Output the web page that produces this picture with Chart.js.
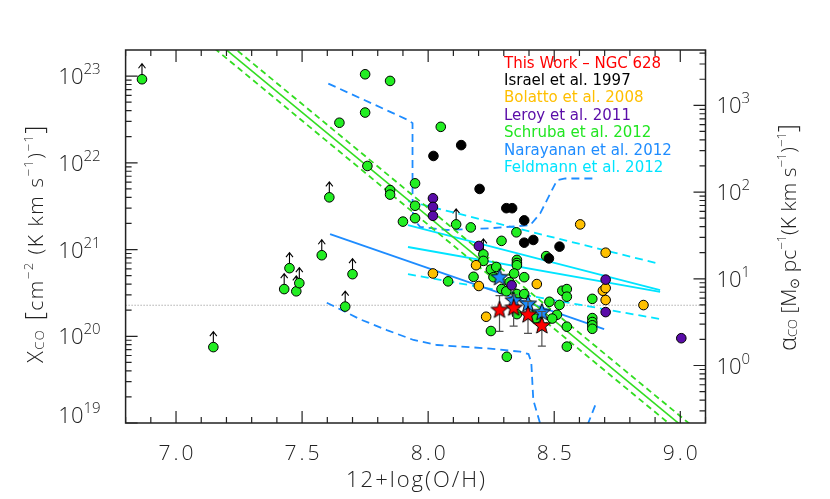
<!DOCTYPE html>
<html>
<head>
<meta charset="utf-8">
<script src="https://cdn.jsdelivr.net/npm/chart.js@4.4.0/dist/chart.umd.min.js"></script>
<style>
  html, body { margin: 0; padding: 0; background: #fff; }
  canvas { display: block; }
</style>
</head>
<body>
<canvas id="xcoChart" width="830" height="499"></canvas>
<script>
// ---- data: metallicity (12+log O/H) and X_CO [cm^-2 (K km/s)^-1] ----
const thisWorkX = [8.283, 8.339, 8.396, 8.451];
const thisWorkY = [2.04e20, 2.16e20, 1.80e20, 1.35e20];
const thisWorkErr = [0.9e20, 0.85e20, 0.72e20, 0.58e20];
const narayananStarY = [4.85e20, 2.62e20, 2.40e20, 1.92e20];

const israelX = [8.021, 8.131, 8.204, 8.310, 8.333, 8.381, 8.381, 8.417, 8.521, 8.479];
const israelY = [1.2e22, 1.6e22, 5.0e21, 3.0e21, 3.0e21, 2.17e21, 1.2e21, 1.29e21, 1.08e21, 7.9e20];

const bolattoX = [8.603, 8.704, 8.190, 8.019, 8.201, 8.431, 8.693, 8.704, 8.704, 8.854, 8.230];
const bolattoY = [1.95e21, 9.2e20, 6.6e20, 5.3e20, 3.8e20, 4.0e20, 3.35e20, 3.6e20, 2.62e20, 2.29e20, 1.68e20];

const leroyX = [8.019, 8.019, 8.019, 8.201, 8.331, 8.704, 8.704, 9.004];
const leroyY = [3.9e21, 3.1e21, 2.45e21, 1.1e21, 3.87e20, 4.5e20, 1.9e20, 9.5e19];

const schrubaX = [7.750, 7.849, 7.648, 7.750, 7.759, 7.849, 7.849, 7.900, 7.948, 7.948, 7.948,
  8.050, 8.169, 8.350, 8.291, 8.219, 8.468, 8.352, 8.352, 8.352, 8.079, 8.180, 8.249, 8.270,
  8.259, 8.341, 8.381, 8.323, 8.291, 8.310, 8.352, 8.381, 8.532, 8.550, 8.550, 8.481, 8.521,
  8.651, 8.651, 8.651, 8.651, 8.651, 8.511, 8.492, 8.426, 8.352, 8.249, 8.550, 8.550, 8.312];
const schrubaY = [1.05e23, 8.8e22, 2.9e22, 3.8e22, 9.2e21, 4.85e21, 4.3e21, 2.1e21, 5.8e21, 3.2e21, 2.3e21,
  2.6e22, 1.8e21, 1.58e21, 1.26e21, 7.4e20, 8.4e20, 7.6e20, 7.0e20, 6.6e20, 4.3e20, 4.85e20, 5.9e20, 6.3e20,
  4.8e20, 5.3e20, 4.8e20, 4.2e20, 3.5e20, 3.3e20, 3.07e20, 3.07e20, 3.35e20, 3.5e20, 2.86e20, 2.5e20, 2.3e20,
  2.7e20, 1.62e20, 1.46e20, 1.34e20, 1.22e20, 1.77e20, 1.6e20, 1.6e20, 1.8e20, 1.15e20, 1.29e20, 7.6e19, 5.8e19];
// lower limits (drawn with an up arrow)
const schrubaLimX = [6.865, 7.148, 7.429, 7.450, 7.477, 7.489, 7.578, 7.700, 7.671, 7.608, 8.111, 8.219];
const schrubaLimY = [9.2e22, 7.5e19, 3.5e20, 6.1e20, 3.3e20, 4.1e20, 8.6e20, 5.2e20, 2.2e20, 4.0e21, 1.95e21, 8.8e20];

// fits and model curves
const schrubaFitX = [7.0, 9.1];
const schrubaFitY = [6.05e23, 5.5e18];
const schrubaFitHiY = [7.55e23, 6.9e18];
const schrubaFitLoY = [4.85e23, 4.43e18];

const narayananFitX = [7.611, 8.698];
const narayananFitY = [1.51e21, 1.21e20];
const narayananUpX = [7.604, 7.922, 7.938, 7.938, 7.940, 7.968, 8.074, 8.246, 8.405, 8.444, 8.511, 8.544, 8.663];
const narayananUpY = [8.2e22, 3.1e22, 2.87e22, 4.06e21, 2.3e21, 1.83e21, 1.68e21, 1.76e21, 1.91e21, 2.6e21, 6.3e21, 6.6e21, 6.6e21];
const narayananLoX = [7.598, 7.730, 7.836, 7.942, 8.035, 8.233, 8.365, 8.398, 8.409, 8.417, 8.444];
const narayananLoY = [2.44e20, 1.57e20, 1.18e20, 9.06e19, 7.93e19, 7.26e19, 6.64e19, 6.24e19, 5.05e19, 1.84e19, 9.9e18];
const narayananLo2X = [8.632, 8.663];
const narayananLo2Y = [9.5e18, 1.61e19];

const feldmannX = [7.92, 8.92];
const feldmannY1 = [1.91e21, 3.41e20];
const feldmannY2 = [1.07e21, 3.26e20];
const feldmannHiY = [3.62e21, 6.8e20];
const feldmannLoY = [5.2e20, 1.58e20];

const milkyWayX = [6.8, 9.1];
const milkyWayY = [2.28e20, 2.28e20];

// axes
const xMin = 6.8, xMax = 9.1;
const yMin = 1e19, yMax = 2e23;
const alphaFactor = 4.6e19;      // X_CO per unit alpha_CO
const xTickLabels = [7.0, 7.5, 8.0, 8.5, 9.0];
const yTickExp = [19, 20, 21, 22, 23];
const alphaTickExp = [0, 1, 2, 3];

const legendLabels = ['This Work \u2013 NGC 628', 'Israel et al. 1997', 'Bolatto et al. 2008',
  'Leroy et al. 2011', 'Schruba et al. 2012', 'Narayanan et al. 2012', 'Feldmann et al. 2012'];
const legendColors = ['#ff0000', '#000000', '#ffbf00', '#5a0ca8', '#22e622', '#1e8cff', '#00e4ff'];

const RED = '#ff0000', ORANGE = '#ffc000', PURPLE = '#5a0ca8', GREEN = '#22ee22',
      BLUE = '#1e8cff', CYAN = '#00e4ff';
const FONT = '"Open Sans"';

const pts = (xs, ys) => xs.map((x, i) => ({ x: x, y: ys[i] }));

function makeStar(fill) {
    const R = 9, r = 3.8, s = 22;
    const c = document.createElement('canvas');
    c.width = s; c.height = s;
    const g = c.getContext('2d');
    g.beginPath();
    for (let i = 0; i < 10; i++) {
        const a = -Math.PI / 2 + i * Math.PI / 5;
        const rad = i % 2 ? r : R;
        g.lineTo(s / 2 + rad * Math.cos(a), s / 2 + 0.8 + rad * Math.sin(a));
    }
    g.closePath();
    g.fillStyle = fill;
    g.fill();
    g.lineWidth = 1;
    g.strokeStyle = '#000';
    g.stroke();
    return c;
}

function points(label, xs, ys, color, order) {
    return {
        label: label, data: pts(xs, ys), order: order,
        backgroundColor: color, borderColor: '#000', borderWidth: 1,
        pointRadius: 4.8, pointHoverRadius: 4.8
    };
}

function curve(label, xs, ys, color, dash, width) {
    return {
        label: label, data: pts(xs, ys), order: 5, showLine: true,
        borderColor: color, borderWidth: width || 1.8, borderDash: dash || [],
        pointRadius: 0, pointHoverRadius: 0, fill: false
    };
}

const datasets = [
    { label: 'This Work', data: pts(thisWorkX, thisWorkY), order: 0,
      pointStyle: makeStar(RED), pointRadius: 9 },
    { label: 'Narayanan stars', data: pts(thisWorkX, narayananStarY), order: 1,
      pointStyle: makeStar(BLUE), pointRadius: 9 },
    points('Leroy', leroyX, leroyY, PURPLE, 2),
    points('Bolatto', bolattoX, bolattoY, ORANGE, 2),
    points('Israel', israelX, israelY, '#000', 2),
    points('Schruba', schrubaX, schrubaY, GREEN, 2),
    points('Schruba limits', schrubaLimX, schrubaLimY, GREEN, 2),
    curve('Schruba fit', schrubaFitX, schrubaFitY, '#33dd22', [], 1.6),
    curve('Schruba hi', schrubaFitX, schrubaFitHiY, '#33dd22', [6, 4], 1.8),
    curve('Schruba lo', schrubaFitX, schrubaFitLoY, '#33dd22', [6, 4], 1.8),
    curve('Narayanan fit', narayananFitX, narayananFitY, BLUE, [], 1.8),
    curve('Narayanan up', narayananUpX, narayananUpY, BLUE, [8, 5], 1.8),
    curve('Narayanan lo', narayananLoX, narayananLoY, BLUE, [8, 5], 1.8),
    curve('Narayanan lo2', narayananLo2X, narayananLo2Y, BLUE, [8, 5], 1.8),
    curve('Feldmann 1', feldmannX, feldmannY1, CYAN, [], 1.8),
    curve('Feldmann 2', feldmannX, feldmannY2, CYAN, [], 1.8),
    curve('Feldmann hi', feldmannX, feldmannHiY, CYAN, [8, 5], 1.8),
    curve('Feldmann lo', feldmannX, feldmannLoY, CYAN, [8, 5], 1.8),
    curve('MW', milkyWayX, milkyWayY, '#888', [1, 2], 1)
];

// text made of pieces with baseline shifts (sub/superscripts)
function richWidth(ctx, parts) {
    let w = 0;
    parts.forEach(p => { ctx.font = '300 ' + p.size + 'px ' + FONT; w += ctx.measureText(p.t).width; });
    return w;
}
function drawRich(ctx, parts, x, y) {
    let cx = x;
    parts.forEach(p => {
        ctx.font = '300 ' + p.size + 'px ' + FONT;
        ctx.fillText(p.t, cx, y + (p.dy || 0));
        cx += ctx.measureText(p.t).width;
    });
}

function powerLabel(exp) {
    return [{ t: '10', size: 22 }, { t: String(exp), size: 15, dy: -10 }];
}

// arrows for lower limits, drawn under the markers
const limitArrows = {
    id: 'limitArrows',
    beforeDatasetsDraw(chart) {
        const meta = chart.getDatasetMeta(6);
        const ctx = chart.ctx;
        ctx.save();
        ctx.strokeStyle = '#000';
        ctx.lineWidth = 1.1;
        meta.data.forEach(el => {
            ctx.beginPath();
            ctx.moveTo(el.x, el.y);
            ctx.lineTo(el.x, el.y - 15);
            ctx.moveTo(el.x - 3.5, el.y - 11);
            ctx.lineTo(el.x, el.y - 15.5);
            ctx.lineTo(el.x + 3.5, el.y - 11);
            ctx.stroke();
        });
        ctx.restore();
    }
};

// error bars on this work, just below the red stars
const errorBars = {
    id: 'errorBars',
    beforeDatasetDraw(chart, args) {
        if (args.index !== 0) return;
        const ctx = chart.ctx, xs = chart.scales.x, ys = chart.scales.y;
        ctx.save();
        ctx.strokeStyle = '#505050';
        ctx.lineWidth = 1.2;
        thisWorkX.forEach((v, i) => {
            const px = xs.getPixelForValue(v);
            const top = ys.getPixelForValue(thisWorkY[i] + thisWorkErr[i]);
            const bot = ys.getPixelForValue(thisWorkY[i] - thisWorkErr[i]);
            ctx.beginPath();
            ctx.moveTo(px, top); ctx.lineTo(px, bot);
            ctx.moveTo(px - 4, top); ctx.lineTo(px + 4, top);
            ctx.moveTo(px - 4, bot); ctx.lineTo(px + 4, bot);
            ctx.stroke();
        });
        ctx.restore();
    }
};

// frame, inward ticks, labels, titles and legend
const frame = {
    id: 'frame',
    afterDraw(chart) {
        const ctx = chart.ctx, a = chart.chartArea;
        const xs = chart.scales.x, ys = chart.scales.y, y2 = chart.scales.y2;
        ctx.save();
        ctx.strokeStyle = '#222';
        ctx.lineWidth = 1.5;
        ctx.strokeRect(a.left, a.top, a.right - a.left, a.bottom - a.top);

        ctx.lineWidth = 1.2;
        ctx.beginPath();
        for (let i = Math.round(xMin * 10); i <= Math.round(xMax * 10); i++) {
            const px = xs.getPixelForValue(i / 10);
            const len = i % 5 === 0 ? 12 : 6;
            ctx.moveTo(px, a.bottom); ctx.lineTo(px, a.bottom - len);
            ctx.moveTo(px, a.top); ctx.lineTo(px, a.top + len);
        }
        for (let e = 18; e <= 23; e++) {
            for (let m = 1; m <= 9; m++) {
                const v = m * Math.pow(10, e);
                if (v < yMin * 0.999 || v > yMax) continue;
                const py = ys.getPixelForValue(v);
                const len = m === 1 ? 12 : 6;
                ctx.moveTo(a.left, py); ctx.lineTo(a.left + len, py);
            }
        }
        for (let e = -1; e <= 4; e++) {
            for (let m = 1; m <= 9; m++) {
                const v = m * Math.pow(10, e);
                if (v < y2.min || v > y2.max) continue;
                const py = y2.getPixelForValue(v);
                const len = m === 1 ? 12 : 6;
                ctx.moveTo(a.right, py); ctx.lineTo(a.right - len, py);
            }
        }
        ctx.stroke();

        ctx.fillStyle = '#222';
        ctx.textBaseline = 'alphabetic';
        // x tick labels
        ctx.textAlign = 'center';
        ctx.letterSpacing = '3px';
        ctx.font = '300 21px ' + FONT;
        xTickLabels.forEach(v => {
            ctx.fillText(v.toFixed(1), xs.getPixelForValue(v) + 1.5, 460);
        });
        ctx.letterSpacing = '0px';
        ctx.textAlign = 'left';
        // left log labels
        yTickExp.forEach(e => {
            const parts = powerLabel(e);
            const w = richWidth(ctx, parts);
            const py = Math.min(ys.getPixelForValue(Math.pow(10, e)) + 8, a.bottom);
            drawRich(ctx, parts, a.left - 25 - w, py);
        });
        // right log labels
        alphaTickExp.forEach(e => {
            const parts = powerLabel(e);
            const py = y2.getPixelForValue(Math.pow(10, e)) + 8;
            drawRich(ctx, parts, a.right + 11, py);
        });

        // x title
        ctx.letterSpacing = '2px';
        ctx.font = '300 22px ' + FONT;
        ctx.textAlign = 'center';
        ctx.fillText('12+log(O/H)', (a.left + a.right) / 2 + 1, 487);
        ctx.textAlign = 'left';

        // y titles (rotated)
        const sup = t => ({ t: t, size: 13, dy: -10 });
        const leftTitle = [{ t: 'X', size: 22 }, { t: 'CO', size: 13, dy: 1 }, { t: ' [', size: 26 },
            { t: 'cm', size: 21 }, sup('\u22122'), { t: ' (K km s', size: 21 }, sup('\u22121'),
            { t: ')', size: 21 }, sup('\u22121'), { t: ']', size: 26 }];
        const rightTitle = [{ t: '\u03b1', size: 24 }, { t: 'CO', size: 13, dy: 1 }, { t: ' [M', size: 21 },
            { t: '\u2299', size: 13, dy: 3 }, { t: ' pc', size: 21 }, sup('\u22121'),
            { t: '(K km s', size: 21 }, sup('\u22121'), { t: ')', size: 21 }, sup('\u22121'),
            { t: ']', size: 26 }];
        [[leftTitle, 43, 243.5, '1.5px'], [rightTitle, 796, 237.5, '0px']].forEach(([parts, bx, cy, sp]) => {
            ctx.letterSpacing = sp;
            const w = richWidth(ctx, parts);
            ctx.save();
            ctx.translate(bx, cy);
            ctx.rotate(-Math.PI / 2);
            drawRich(ctx, parts, -w / 2, 0);
            ctx.restore();
        });
        ctx.letterSpacing = '0px';

        // legend
        ctx.font = '15px "DejaVu Sans"';
        legendLabels.forEach((t, i) => {
            ctx.fillStyle = legendColors[i];
            ctx.fillText(t, 504, 67.5 + i * 17.4);
        });
        ctx.restore();
    }
};

const hidden = {
    grid: { display: false }, border: { display: false }, ticks: { display: false }
};

new Chart(document.getElementById('xcoChart'), {
    type: 'scatter',
    data: { datasets: datasets },
    options: {
        responsive: false,
        animation: false,
        devicePixelRatio: 1,
        layout: { padding: { top: 50, left: 0, right: 0, bottom: 0 } },
        plugins: { legend: { display: false }, tooltip: { enabled: false } },
        scales: {
            x: Object.assign({ type: 'linear', min: xMin, max: xMax,
                afterFit: s => { s.height = 76; } }, hidden),
            y: Object.assign({ type: 'logarithmic', position: 'left', min: yMin, max: yMax,
                afterFit: s => { s.width = 125.6; } }, hidden),
            y2: Object.assign({ type: 'logarithmic', position: 'right',
                min: yMin / alphaFactor, max: yMax / alphaFactor,
                afterFit: s => { s.width = 124.5; } }, hidden)
        }
    },
    plugins: [limitArrows, errorBars, frame]
});
</script>
</body>
</html>
